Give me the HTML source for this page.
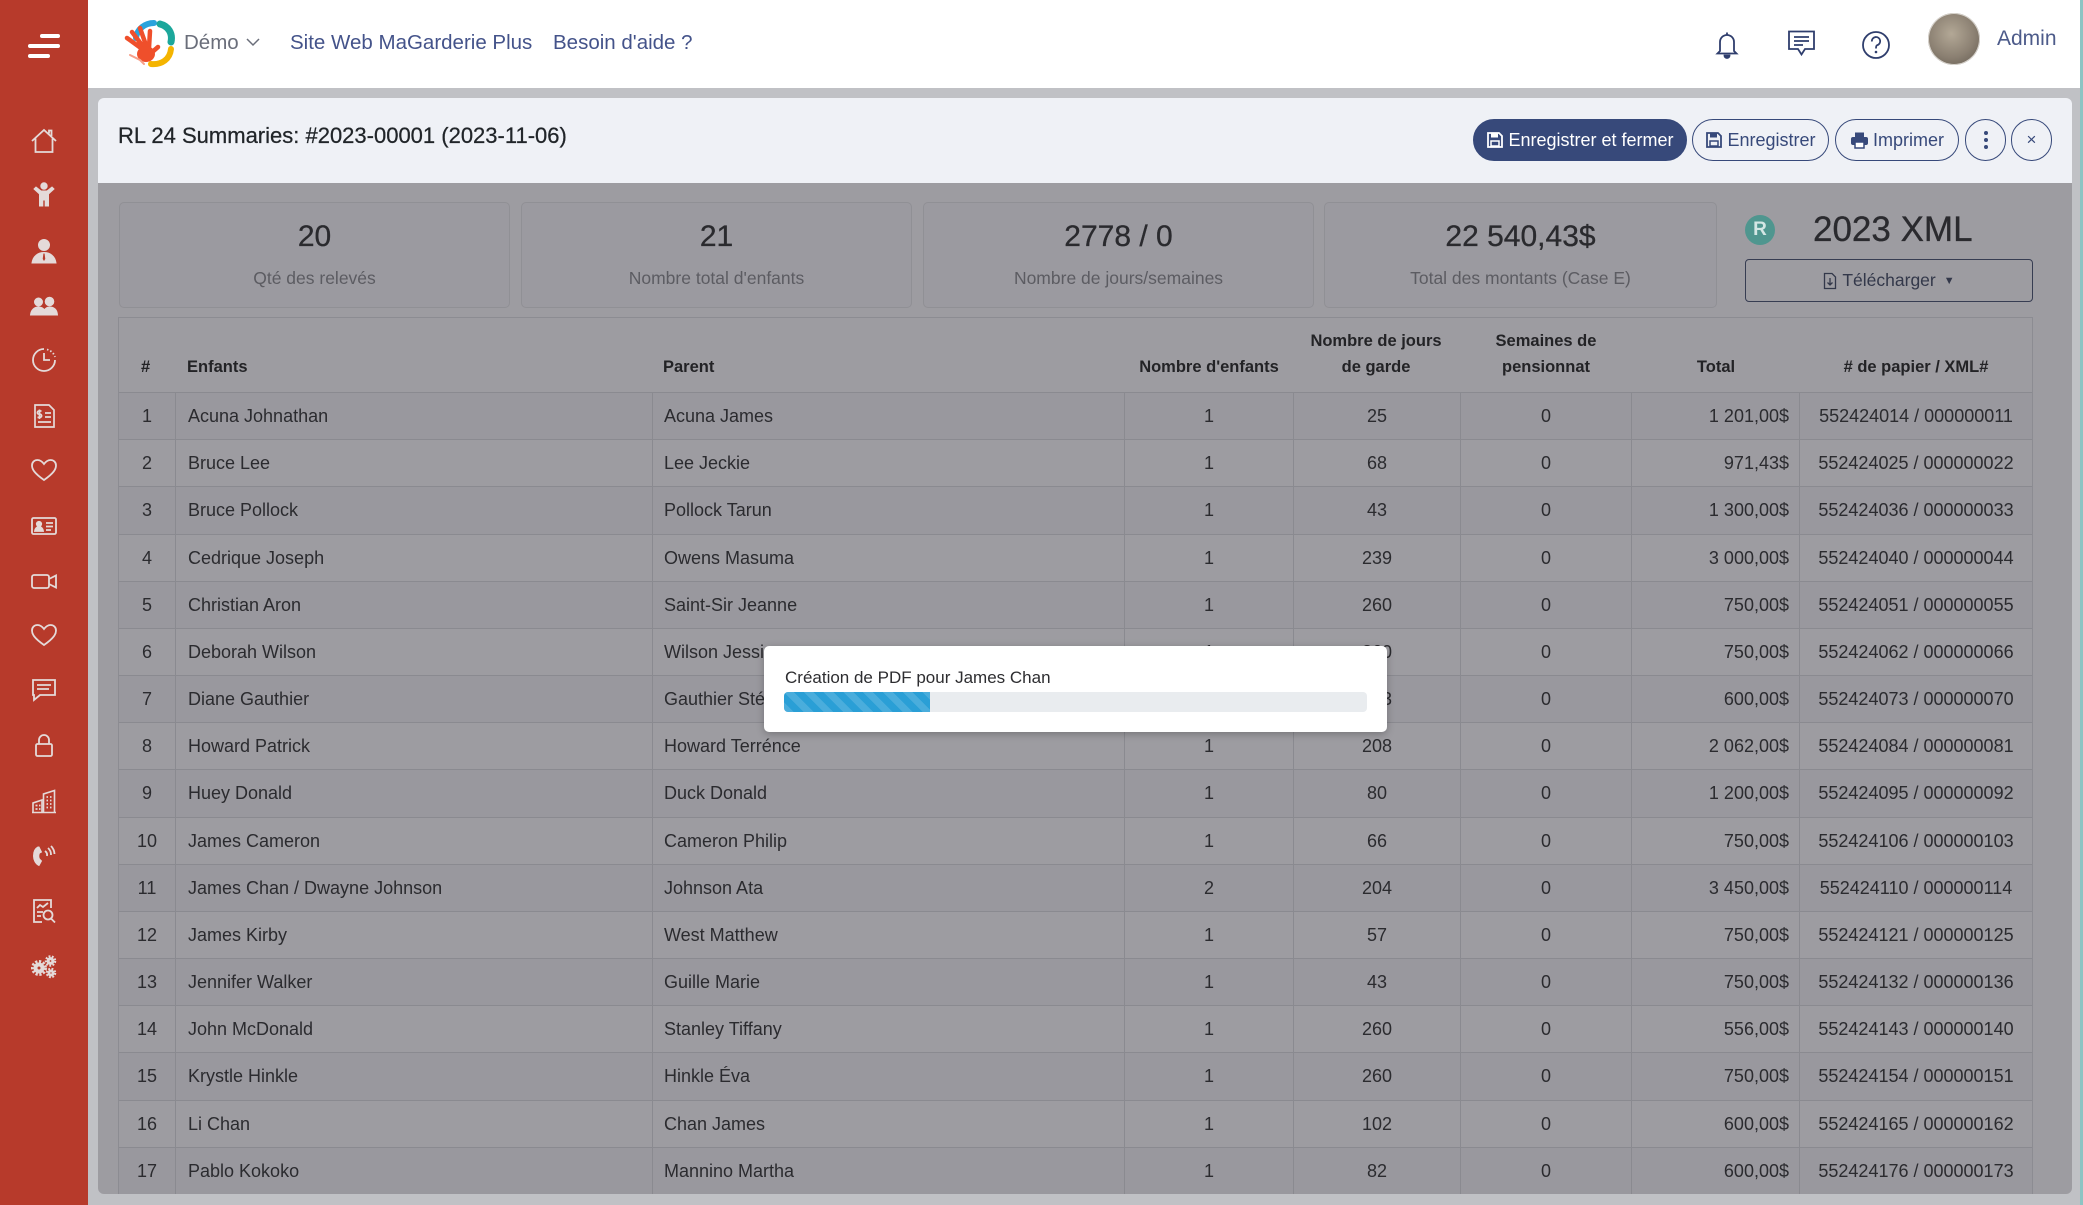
<!DOCTYPE html>
<html><head><meta charset="utf-8">
<style>
*{box-sizing:border-box;margin:0;padding:0}
html,body{width:2083px;height:1205px;overflow:hidden}
body{position:relative;background:#c0c1c5;font-family:"Liberation Sans",Arial,sans-serif;color:#2b2b2f}
.a{position:absolute}
.sidebar{left:0;top:0;width:88px;height:1205px;background:#b73a2b}
.hb{position:absolute;height:4px;border-radius:2px;background:#fff}
.si{position:absolute;left:29px;width:30px;height:30px}
.si *{stroke:#e4dad9}
.topbar{left:88px;top:0;width:1995px;height:88px;background:#fff}
.nav{position:absolute;top:29px;line-height:28px;font-size:20.5px;color:#44538a;white-space:nowrap}
.ph{left:98px;top:98px;width:1974px;height:85px;background:#eff1f6;border-radius:6px 6px 0 0}
.pb{left:98px;top:183px;width:1974px;height:1011px;background:#9d9ca1;border-radius:0 0 6px 6px}
.btn{position:absolute;top:119px;height:42px;border-radius:21px;border:1.5px solid #37497a;color:#37497a;font-size:18px;display:flex;align-items:center;justify-content:center;white-space:nowrap}
.card{position:absolute;top:202px;height:106px;width:391px;border:1px solid #909095;border-radius:5px;background:#9b9aa0;text-align:center}
.card .n{position:absolute;left:0;right:0;top:14px;line-height:40px;font-size:30px;color:#2a2a2e;-webkit-text-stroke:.3px #2a2a2e}
.card .l{position:absolute;left:0;right:0;top:64px;line-height:22px;font-size:17.5px;color:#5c5c62}
.tbl{left:118px;top:317px;width:1915px;height:877px;border:1px solid #8c8c92;border-bottom:none}
.th{position:absolute;font-weight:bold;font-size:16.5px;color:#232326;line-height:22px;white-space:nowrap}
.thc{text-align:center;width:240px}
.rows{left:119px;top:392px;width:1913px}
.r{display:flex;height:47.18px;border-top:1px solid #8a8a90;background:#9d9ca1}
.r.o{background:#99989e}
.r i{font-style:normal;display:block;line-height:46px;font-size:18px;color:#2b2b2f;white-space:nowrap;overflow:hidden;border-left:1px solid #8a8a90}
.r i:nth-child(1){width:56px;text-align:center;border-left:none}
.r i:nth-child(2){width:477px;padding-left:12px}
.r i:nth-child(3){width:472px;padding-left:11px}
.r i:nth-child(4){width:169px;text-align:center}
.r i:nth-child(5){width:167px;text-align:center}
.r i:nth-child(6){width:171px;text-align:center}
.r i:nth-child(7){width:168px;text-align:right;padding-right:10px}
.r i:nth-child(8){width:233px;text-align:center}
.modal{left:764px;top:646px;width:623px;height:86px;background:#fff;border-radius:5px;box-shadow:0 2px 8px rgba(0,0,0,.25)}
</style></head><body>

<!-- sidebar -->
<div class="a sidebar">
  <div class="hb" style="left:40px;top:34px;width:20px"></div>
  <div class="hb" style="left:28px;top:44px;width:32px"></div>
  <div class="hb" style="left:28px;top:54px;width:22px"></div>

  <svg class="si" style="top:126px" viewBox="0 0 30 30" fill="none" stroke-width="1.8"><path d="M3 15 L15 4 L27 15 M6.5 12.5 V26 H23.5 V12.5 M20 7.5 V4.5 H22.5 V10"/></svg>
  <svg class="si" style="top:180px" viewBox="0 0 30 30"><circle cx="15" cy="6" r="3.2" fill="#e4dad9" stroke="none"/><path d="M5 9 L7 7 L12 11 H18 L23 7 L25 9 L19.5 14 V26 H16.2 V20 H13.8 V26 H10.5 V14 Z" fill="#e4dad9" stroke="none"/></svg>
  <svg class="si" style="top:236px" viewBox="0 0 30 30"><circle cx="15" cy="9" r="5.5" fill="#e4dad9" stroke="none"/><path d="M3 27 C4 20 9 16.5 15 16.5 C21 16.5 26 20 27 27 Z" fill="#e4dad9" stroke="none"/><path d="M14 17 H16 L16.8 23 L15 26 L13.2 23 Z" fill="#b73a2b" stroke="none"/></svg>
  <svg class="si" style="top:291px" viewBox="0 0 30 30"><circle cx="9.5" cy="11" r="4" fill="#e4dad9" stroke="none"/><circle cx="20.5" cy="10.5" r="4.3" fill="#e4dad9" stroke="none"/><path d="M1.5 24 C2 18.5 5.5 16 9.5 16 C12.5 16 14.5 17.5 15.5 19 C16.5 17 18.5 16 20.5 16 C25 16 28 18.5 28.5 24 Z" fill="#e4dad9" stroke="none"/></svg>
  <svg class="si" style="top:345px" viewBox="0 0 30 30" fill="none" stroke-width="1.8"><path d="M15 4 A11 11 0 1 0 26 15"/><path d="M18 4.5 A11 11 0 0 1 26 12" stroke-dasharray="1.5 2"/><path d="M15 8 V15 H21"/></svg>
  <svg class="si" style="top:401px" viewBox="0 0 30 30" fill="none" stroke-width="1.7"><path d="M6 4 H20 L25 9 V26 H6 Z"/><path d="M12.5 10 H10 A1.6 1.6 0 0 0 10 13.2 H11 A1.6 1.6 0 0 1 11 16.4 H8.5 M10.5 8.5 V18"/><path d="M16 12 H22 M16 16 H22 M9 21 H22"/></svg>
  <svg class="si" style="top:455px" viewBox="0 0 30 30" fill="none" stroke-width="1.8"><path d="M15 25 C5 18 3 14 3 10.5 C3 7 5.5 5 8.5 5 C11.5 5 13.5 7 15 9 C16.5 7 18.5 5 21.5 5 C24.5 5 27 7 27 10.5 C27 14 25 18 15 25 Z"/></svg>
  <svg class="si" style="top:511px" viewBox="0 0 30 30" fill="none" stroke-width="1.8"><rect x="3" y="7" width="24" height="16" rx="1.5"/><circle cx="10" cy="13" r="2.2" fill="#e4dad9" stroke="none"/><path d="M6 20 C6.5 17 8 16 10 16 C12 16 13.5 17 14 20Z" fill="#e4dad9" stroke="none"/><path d="M17 12 H24 M17 15.5 H24 M17 19 H22"/></svg>
  <svg class="si" style="top:566px" viewBox="0 0 30 30" fill="none" stroke-width="1.8"><rect x="3" y="9" width="17" height="13" rx="2"/><path d="M20 13 L27 9.5 V21.5 L20 18"/></svg>
  <svg class="si" style="top:620px" viewBox="0 0 30 30" fill="none" stroke-width="1.8"><path d="M15 25 C5 18 3 14 3 10.5 C3 7 5.5 5 8.5 5 C11.5 5 13.5 7 15 9 C16.5 7 18.5 5 21.5 5 C24.5 5 27 7 27 10.5 C27 14 25 18 15 25 Z"/></svg>
  <svg class="si" style="top:675px" viewBox="0 0 30 30" fill="none" stroke-width="1.8"><path d="M4 5 H26 V20 H11 L5 25 V20 H4 Z"/><path d="M8 10 H22 M8 14 H20"/></svg>
  <svg class="si" style="top:730px" viewBox="0 0 30 30" fill="none" stroke-width="1.8"><rect x="7" y="14" width="16" height="12" rx="1.5"/><path d="M10 14 V10 A5 5 0 0 1 20 10 V14"/></svg>
  <svg class="si" style="top:786px" viewBox="0 0 30 30" fill="none" stroke-width="1.6"><path d="M3 26.5 H27"/><path d="M4 26.5 V17 L13 14 V26.5"/><path d="M14.5 26.5 V8 L25.5 4.5 V26.5"/><path d="M6.5 19.5 H8.5 M10 19.5 H11.5 M6.5 23 H8.5 M10 23 H11.5 M17.5 11 H19 M21 11 H22.5 M17.5 14.5 H19 M21 14.5 H22.5 M17.5 18 H19 M21 18 H22.5 M17.5 21.5 H19 M21 21.5 H22.5" stroke-width="1.8"/></svg>
  <svg class="si" style="top:841px" viewBox="0 0 30 30"><path d="M9 6 C6 7.5 4.5 11 4.5 15 C4.5 19 6.5 23 10 24.5 L12.5 20 L10.5 18 C9.5 16 9.5 14 10.5 12 L12.5 11 L10 6 Z" fill="#e4dad9" stroke="none"/><path d="M16 10 A5 5 0 0 1 18 15 M19 7 A9 9 0 0 1 22 14 M22 5 A12 12 0 0 1 25.5 13" fill="none" stroke-width="1.8"/></svg>
  <svg class="si" style="top:896px" viewBox="0 0 30 30" fill="none" stroke-width="1.8"><path d="M22 12 V4 H5 V26 H13"/><path d="M8 12 L11 9 L14 11 L19 7"/><path d="M8 16 H14 M8 20 H12"/><circle cx="19" cy="19" r="4.5"/><path d="M22 22.5 L26 26.5"/></svg>
  <svg class="si" style="top:951px" viewBox="0 0 30 30"><circle cx="10" cy="17" r="6.5" fill="none" stroke-width="3" stroke-dasharray="2.2 1.6"/><circle cx="10" cy="17" r="5" fill="#e4dad9" stroke="none"/><circle cx="10" cy="17" r="2" fill="#b73a2b" stroke="none"/><circle cx="21.5" cy="10" r="4.5" fill="none" stroke-width="2.5" stroke-dasharray="1.8 1.4"/><circle cx="21.5" cy="10" r="3.4" fill="#e4dad9" stroke="none"/><circle cx="21.5" cy="10" r="1.4" fill="#b73a2b" stroke="none"/><circle cx="22" cy="22" r="4" fill="none" stroke-width="2.5" stroke-dasharray="1.8 1.4"/><circle cx="22" cy="22" r="3" fill="#e4dad9" stroke="none"/><circle cx="22" cy="22" r="1.2" fill="#b73a2b" stroke="none"/></svg>
</div>

<!-- top bar -->
<div class="a topbar"></div>
<svg class="a" style="left:120px;top:18px" width="56" height="52" viewBox="0 0 56 52">
  <path d="M16 20 C17 11 25 5 34 5" stroke="#2aa3dc" stroke-width="6" stroke-linecap="round" fill="none"/>
  <path d="M40 6 C48 8 53 15 51 24" stroke="#1ca79b" stroke-width="7" stroke-linecap="round" fill="none"/>
  <path d="M51 31 C50 41 42 47 31 46" stroke="#f4b400" stroke-width="6" stroke-linecap="round" fill="none"/>
  <g stroke="#ef4f2b" stroke-width="4.5" stroke-linecap="round" fill="none">
    <path d="M25 33 L7 20 M25 31 L12 14 M27 30 L20 10 M29 30 L30 13 M30 36 L38 29"/>
  </g>
  <ellipse cx="26" cy="36" rx="9" ry="8" fill="#ef4f2b"/>
  <path d="M10 37 L20 42 L24 46" stroke="#f7a08a" stroke-width="2" fill="none" stroke-linecap="round"/>
</svg>
<div class="nav" style="left:184px;color:#6a6e7a">Démo</div>
<svg class="a" style="left:245px;top:36px" width="16" height="12" viewBox="0 0 16 12"><path d="M2 3 L8 9 L14 3" stroke="#6a6e7a" stroke-width="1.5" fill="none"/></svg>
<div class="nav" style="left:290px">Site Web MaGarderie Plus</div>
<div class="nav" style="left:553px">Besoin d'aide ?</div>

<svg class="a" style="left:1713px;top:29px" width="28" height="30" viewBox="0 0 28 30" fill="none" stroke="#2f3e6d" stroke-width="1.8"><path d="M7 22 V13 A7 7 0 0 1 21 13 V22 L23.5 24.5 H4.5 Z"/><path d="M11.5 26.5 A2.5 2.5 0 0 0 16.5 26.5 Z" fill="#2f3e6d"/><path d="M14 3.5 V6"/></svg>
<svg class="a" style="left:1786px;top:29px" width="32" height="30" viewBox="0 0 32 30" fill="none" stroke="#2f3e6d" stroke-width="1.8"><path d="M3 2.5 H28 V20 H19 L15.5 25.5 L12 20 H3 Z"/><path d="M8 8 H23 M8 12 H23 M8 16 H17"/></svg>
<svg class="a" style="left:1860px;top:30px" width="32" height="30" viewBox="0 0 32 30" fill="none" stroke="#2f3e6d" stroke-width="1.8"><circle cx="16" cy="15" r="13"/><path d="M11.8 11.5 A4.2 4.2 0 1 1 17 15.3 C16 15.8 16 16.8 16 18.5"/><circle cx="16" cy="22" r="1.3" fill="#2f3e6d" stroke="none"/></svg>
<div class="a" style="left:1928px;top:13px;width:52px;height:52px;border-radius:50%;background:radial-gradient(circle at 45% 40%,#b3a896,#8b8072 55%,#5f574d 100%);box-shadow:inset 0 0 0 1px #d8d4ce"></div>
<div class="nav" style="left:1997px;top:25px;font-size:21px;color:#4d5b8a">Admin</div>

<div class="a" style="left:2080px;top:0;width:3px;height:1205px;background:#8cc4c3"></div>

<!-- panel -->
<div class="a ph"></div>
<div class="a" style="left:118px;top:123px;line-height:26px;font-size:22px;color:#212529;-webkit-text-stroke:.25px #212529;white-space:nowrap">RL 24 Summaries: #2023-00001 (2023-11-06)</div>

<div class="btn" style="left:1473px;width:214px;background:#37497a;color:#fff">
  <svg width="18" height="18" viewBox="0 0 18 18" style="margin-right:4px"><path d="M2 2 H13 L16 5 V16 H2 Z" fill="none" stroke="#fff" stroke-width="1.8"/><rect x="5" y="2.5" width="7" height="4" fill="#fff"/><rect x="5" y="10" width="8" height="5" fill="none" stroke="#fff" stroke-width="1.5"/></svg>Enregistrer et fermer</div>
<div class="btn" style="left:1692px;width:137px">
  <svg width="18" height="18" viewBox="0 0 18 18" style="margin-right:4px"><path d="M2 2 H13 L16 5 V16 H2 Z" fill="none" stroke="#37497a" stroke-width="1.8"/><rect x="5" y="2.5" width="7" height="4" fill="#37497a"/><rect x="5" y="10" width="8" height="5" fill="none" stroke="#37497a" stroke-width="1.5"/></svg>Enregistrer</div>
<div class="btn" style="left:1835px;width:124px">
  <svg width="19" height="18" viewBox="0 0 19 18" style="margin-right:4px"><rect x="5" y="1.5" width="9" height="5" fill="#37497a"/><rect x="1" y="6" width="17" height="8" rx="2" fill="#37497a"/><rect x="5" y="11" width="9" height="6" fill="#fff" stroke="#37497a" stroke-width="1.5"/></svg>Imprimer</div>
<div class="btn" style="left:1965px;width:41px;flex-direction:column;gap:3px"><span style="width:4px;height:4px;border-radius:50%;background:#37497a;display:block"></span><span style="width:4px;height:4px;border-radius:50%;background:#37497a;display:block"></span><span style="width:4px;height:4px;border-radius:50%;background:#37497a;display:block"></span></div>
<div class="btn" style="left:2011px;width:41px;font-size:17px">×</div>

<div class="a pb"></div>

<!-- stat cards -->
<div class="card" style="left:119px"><div class="n">20</div><div class="l">Qté des relevés</div></div>
<div class="card" style="left:521px"><div class="n">21</div><div class="l">Nombre total d'enfants</div></div>
<div class="card" style="left:923px"><div class="n">2778 / 0</div><div class="l">Nombre de jours/semaines</div></div>
<div class="card" style="left:1324px;width:393px"><div class="n">22 540,43$</div><div class="l">Total des montants (Case E)</div></div>

<div class="a" style="left:1745px;top:215px;width:30px;height:30px;border-radius:50%;background:#4f968f;color:#d3e6e4;font-weight:bold;font-size:19px;line-height:30px;text-align:center">R</div>
<div class="a" style="left:1813px;top:209px;line-height:42px;font-size:35px;color:#2a2a2e;-webkit-text-stroke:.3px #2a2a2e;white-space:nowrap">2023 XML</div>
<div class="a" style="left:1745px;top:259px;width:288px;height:43px;border:1.5px solid #373d52;border-radius:4px;display:flex;align-items:center;justify-content:center;font-size:17.5px;color:#33384a">
  <svg width="14" height="18" viewBox="0 0 14 18" style="margin-right:5px"><path d="M1.5 1.5 H9 L12.5 5 V16.5 H1.5 Z" fill="none" stroke="#33384a" stroke-width="1.3"/><path d="M7 6 V13 M4.5 10.5 L7 13 L9.5 10.5" fill="none" stroke="#33384a" stroke-width="1.3"/></svg>Télécharger<span style="font-size:11px;margin-left:8px">▼</span></div>

<!-- table -->
<div class="a tbl"></div>
<div class="th" style="left:141px;top:356px">#</div>
<div class="th" style="left:187px;top:356px">Enfants</div>
<div class="th" style="left:663px;top:356px">Parent</div>
<div class="th thc" style="left:1089px;top:356px">Nombre d'enfants</div>
<div class="th thc" style="left:1256px;top:330px">Nombre de jours</div>
<div class="th thc" style="left:1256px;top:356px">de garde</div>
<div class="th thc" style="left:1426px;top:330px">Semaines de</div>
<div class="th thc" style="left:1426px;top:356px">pensionnat</div>
<div class="th thc" style="left:1596px;top:356px">Total</div>
<div class="th thc" style="left:1796px;top:356px"># de papier / XML#</div>

<div class="a rows">
<div class="r o"><i>1</i><i>Acuna Johnathan</i><i>Acuna James</i><i>1</i><i>25</i><i>0</i><i>1 201,00$</i><i>552424014 / 000000011</i></div>
<div class="r"><i>2</i><i>Bruce Lee</i><i>Lee Jeckie</i><i>1</i><i>68</i><i>0</i><i>971,43$</i><i>552424025 / 000000022</i></div>
<div class="r o"><i>3</i><i>Bruce Pollock</i><i>Pollock Tarun</i><i>1</i><i>43</i><i>0</i><i>1 300,00$</i><i>552424036 / 000000033</i></div>
<div class="r"><i>4</i><i>Cedrique Joseph</i><i>Owens Masuma</i><i>1</i><i>239</i><i>0</i><i>3 000,00$</i><i>552424040 / 000000044</i></div>
<div class="r o"><i>5</i><i>Christian Aron</i><i>Saint-Sir Jeanne</i><i>1</i><i>260</i><i>0</i><i>750,00$</i><i>552424051 / 000000055</i></div>
<div class="r"><i>6</i><i>Deborah Wilson</i><i>Wilson Jessica</i><i>1</i><i>260</i><i>0</i><i>750,00$</i><i>552424062 / 000000066</i></div>
<div class="r o"><i>7</i><i>Diane Gauthier</i><i>Gauthier Stéphanie</i><i>1</i><i>123</i><i>0</i><i>600,00$</i><i>552424073 / 000000070</i></div>
<div class="r"><i>8</i><i>Howard Patrick</i><i>Howard Terrénce</i><i>1</i><i>208</i><i>0</i><i>2 062,00$</i><i>552424084 / 000000081</i></div>
<div class="r o"><i>9</i><i>Huey Donald</i><i>Duck Donald</i><i>1</i><i>80</i><i>0</i><i>1 200,00$</i><i>552424095 / 000000092</i></div>
<div class="r"><i>10</i><i>James Cameron</i><i>Cameron Philip</i><i>1</i><i>66</i><i>0</i><i>750,00$</i><i>552424106 / 000000103</i></div>
<div class="r o"><i>11</i><i>James Chan / Dwayne Johnson</i><i>Johnson Ata</i><i>2</i><i>204</i><i>0</i><i>3 450,00$</i><i>552424110 / 000000114</i></div>
<div class="r"><i>12</i><i>James Kirby</i><i>West Matthew</i><i>1</i><i>57</i><i>0</i><i>750,00$</i><i>552424121 / 000000125</i></div>
<div class="r o"><i>13</i><i>Jennifer Walker</i><i>Guille Marie</i><i>1</i><i>43</i><i>0</i><i>750,00$</i><i>552424132 / 000000136</i></div>
<div class="r"><i>14</i><i>John McDonald</i><i>Stanley Tiffany</i><i>1</i><i>260</i><i>0</i><i>556,00$</i><i>552424143 / 000000140</i></div>
<div class="r o"><i>15</i><i>Krystle Hinkle</i><i>Hinkle Éva</i><i>1</i><i>260</i><i>0</i><i>750,00$</i><i>552424154 / 000000151</i></div>
<div class="r"><i>16</i><i>Li Chan</i><i>Chan James</i><i>1</i><i>102</i><i>0</i><i>600,00$</i><i>552424165 / 000000162</i></div>
<div class="r o"><i>17</i><i>Pablo Kokoko</i><i>Mannino Martha</i><i>1</i><i>82</i><i>0</i><i>600,00$</i><i>552424176 / 000000173</i></div>
</div>

<!-- modal -->
<div class="a modal">
  <div class="a" style="left:21px;top:20px;line-height:24px;font-size:17px;color:#2d2d30;white-space:nowrap">Création de PDF pour James Chan</div>
  <div class="a" style="left:20px;top:46px;width:583px;height:20px;background:#e9ecef;border-radius:4px;overflow:hidden">
    <div style="width:146px;height:20px;background-color:#2a9fd6;background-image:repeating-linear-gradient(45deg,rgba(255,255,255,.15) 0 7px,transparent 7px 14px)"></div>
  </div>
</div>

</body></html>
